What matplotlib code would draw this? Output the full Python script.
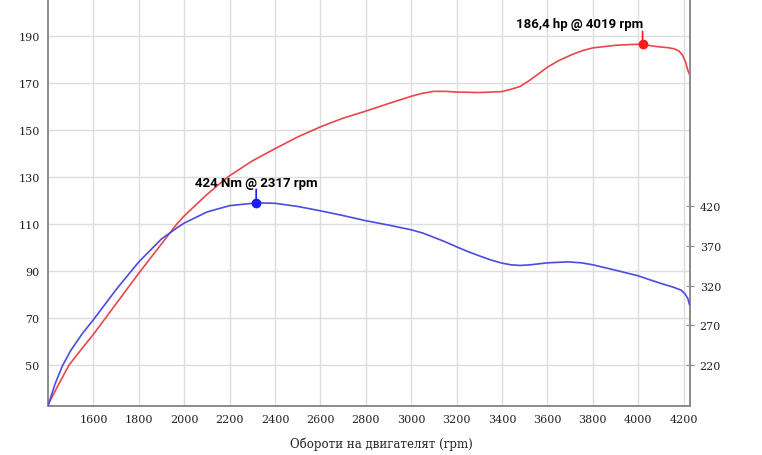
import matplotlib
matplotlib.use('Agg')
import matplotlib.pyplot as plt

# power curve (hp)
hp_rpm = [1400, 1450, 1493, 1550, 1600, 1700, 1800, 1900, 1968, 2000, 2100, 2165,
          2200, 2300, 2400, 2500, 2600, 2700, 2800, 2900, 3000, 3050, 3100, 3150,
          3200, 3300, 3400, 3440, 3480, 3523, 3560, 3600, 3650, 3714, 3760, 3800,
          3900, 3960, 4019, 4050, 4085, 4130, 4159, 4180, 4195, 4208, 4218, 4226]
hp = [33.0, 42.3, 50.0, 57.0, 63.0, 76.0, 89.0, 101.5, 110.0, 113.4, 122.5, 127.8,
      130.5, 136.8, 142.0, 147.0, 151.3, 155.0, 158.0, 161.2, 164.3, 165.6, 166.4, 166.4,
      166.1, 165.9, 166.3, 167.3, 168.5, 171.2, 173.8, 176.7, 179.5, 182.3, 183.9, 184.9,
      186.0, 186.3, 186.5, 185.9, 185.4, 185.0, 184.5, 183.5, 181.8, 179.0, 175.5, 173.5]

# torque curve (Nm)
tq_rpm = [1400, 1430, 1464, 1500, 1550, 1600, 1700, 1800, 1900, 1968, 2000, 2100,
          2200, 2317, 2400, 2500, 2600, 2700, 2800, 2900, 3000, 3050, 3100, 3150,
          3200, 3250, 3300, 3350, 3400, 3440, 3480, 3524, 3600, 3691, 3750, 3800,
          3900, 4000, 4050, 4100, 4150, 4189, 4205, 4218, 4226]
tq = [168, 195, 219, 238, 259, 277, 315, 350, 379, 393, 399, 413,
      421, 424.5, 424, 420, 414.5, 408.5, 402, 396.5, 390.5, 386.5, 381, 375.3,
      369, 363, 357.6, 352.5, 348.4, 346.3, 345.5, 346.3, 348.8, 350, 348.8, 346.3,
      339.5, 332.4, 327.5, 322.8, 318.5, 314.3, 310, 304, 296]

peak_hp = (4019, 186.4)
peak_tq = (2317, 424)

x_ticks = list(range(1600, 4201, 200))
hp_ticks = list(range(50, 191, 20))
tq_ticks = list(range(220, 421, 50))

red = '#e8474b'
blue = '#4b4be0'
spine_c = '#8a8a8a'
tick_font = 'DejaVu Serif'

fig = plt.figure(figsize=(7.62, 4.56), dpi=100)
ax = fig.add_axes([48/762, 49/456, 642/762, 407/456])
ax2 = ax.twinx()

ax.plot(hp_rpm, hp, color=red, lw=1.2, zorder=3)
ax2.plot(tq_rpm, tq, color=blue, lw=1.2, zorder=3)

ax.set_xlim(1400, 4228)
ax.set_ylim(32.5, 205.7)
ax2.set_ylim(168, 682)

ax.set_xticks(x_ticks)
ax.set_yticks(hp_ticks)
ax2.set_yticks(tq_ticks)
ax.grid(True, color='#dddddd', lw=1)
ax.set_axisbelow(True)

for a in (ax, ax2):
    a.spines['top'].set_visible(False)
    for s in ('left', 'right', 'bottom'):
        a.spines[s].set_color(spine_c)
        a.spines[s].set_linewidth(1.2)

ax.tick_params(axis='both', length=0, pad=6, labelsize=8, labelcolor='#222222')
ax2.tick_params(axis='y', direction='inout', length=6, color=spine_c, pad=4,
                labelsize=8, labelcolor='#222222')
for lab in ax.get_xticklabels() + ax.get_yticklabels() + ax2.get_yticklabels():
    lab.set_fontfamily(tick_font)

ax.set_xlabel('Обороти на двигателят (rpm)', fontsize=8.5, family=tick_font,
              color='#222222', labelpad=6)
ax.xaxis.set_label_coords((381 - 48) / 642, -0.075)

# peak markers
ax.plot(*peak_hp, 'o', color='#ff1a1a', ms=6, zorder=5)
ax2.plot(*peak_tq, 'o', color='#1a1aff', ms=6, zorder=5)

ax.annotate('', xy=peak_hp, xytext=(0, 13), textcoords='offset pixels',
            arrowprops=dict(arrowstyle='-', color='#ff1a1a', lw=1.2, shrinkA=0, shrinkB=0))
ax.annotate('186,4 hp @ 4019 rpm', xy=peak_hp, xytext=(1, 21), textcoords='offset pixels',
            ha='right', va='center', fontsize=9.5, fontweight='bold', family='Roboto')

ax2.annotate('', xy=peak_tq, xytext=(0, 14), textcoords='offset pixels',
             arrowprops=dict(arrowstyle='-', color='#1a1aff', lw=1.2, shrinkA=0, shrinkB=0))
ax2.annotate('424 Nm @ 2317 rpm', xy=peak_tq, xytext=(0, 21), textcoords='offset pixels',
             ha='center', va='center', fontsize=9.5, fontweight='bold', family='Roboto')

fig.savefig('out.png', dpi=100)
